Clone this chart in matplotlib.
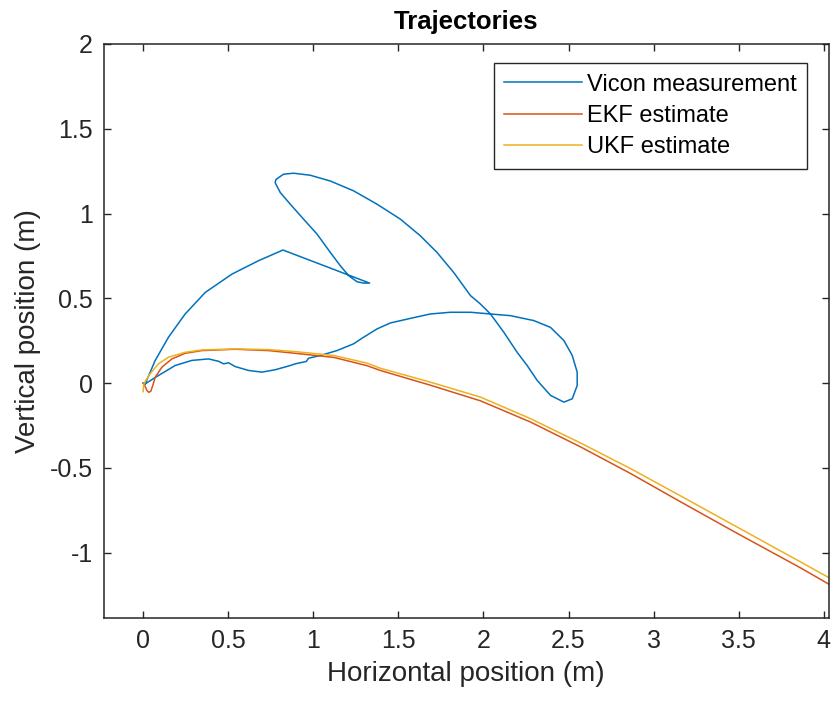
import numpy as np
import matplotlib.pyplot as plt

plt.rcParams['font.family'] = ['Liberation Sans', 'DejaVu Sans']

# Vicon measurement
vicon_x = [0.0, 0.012, 0.09, 0.188, 0.286, 0.384, 0.443, 0.473, 0.502, 0.541, 0.619,
           0.698, 0.776, 0.865, 0.894, 0.959, 0.972, 1.041, 1.139, 1.237, 1.296, 1.375,
           1.453, 1.571, 1.688, 1.806, 1.924, 2.041, 2.159, 2.296, 2.394, 2.473, 2.522,
           2.551, 2.551, 2.522, 2.473, 2.394, 2.316, 2.257, 2.198, 2.12, 2.041, 1.982,
           1.924, 1.825, 1.727, 1.629, 1.512, 1.375, 1.237, 1.1, 0.982, 0.884, 0.825,
           0.796, 0.78, 0.776, 0.806, 0.865, 0.943, 1.022, 1.1, 1.159, 1.208, 1.257,
           1.296, 1.331, 0.822, 0.678, 0.522, 0.365, 0.247, 0.149, 0.071, 0.012]
vicon_y = [0.0, -0.004, 0.045, 0.104, 0.134, 0.143, 0.129, 0.114, 0.12, 0.098, 0.075,
           0.065, 0.079, 0.104, 0.114, 0.128, 0.147, 0.163, 0.192, 0.232, 0.271, 0.32,
           0.355, 0.382, 0.408, 0.418, 0.418, 0.408, 0.398, 0.369, 0.329, 0.251, 0.163,
           0.065, -0.014, -0.092, -0.112, -0.072, 0.016, 0.104, 0.182, 0.3, 0.408, 0.467,
           0.516, 0.653, 0.771, 0.869, 0.967, 1.055, 1.134, 1.192, 1.226, 1.238, 1.232,
           1.212, 1.2, 1.182, 1.124, 1.055, 0.967, 0.879, 0.771, 0.692, 0.634, 0.598,
           0.59, 0.59, 0.785, 0.722, 0.643, 0.535, 0.408, 0.271, 0.134, -0.004]

# EKF estimate
ekf_x = [0.0, 0.012, 0.022, 0.033, 0.045, 0.058, 0.071, 0.11, 0.169, 0.247, 0.345,
         0.541, 0.737, 0.894, 1.12, 1.316, 1.394, 1.512, 1.688, 1.982, 2.276, 2.571,
         2.865, 3.159, 3.472, 3.865, 4.031]
ekf_y = [0.0, -0.019, -0.043, -0.054, -0.048, -0.01, 0.035, 0.094, 0.143, 0.176, 0.192,
         0.2, 0.192, 0.176, 0.152, 0.103, 0.075, 0.04, -0.012, -0.104, -0.229, -0.376,
         -0.533, -0.7, -0.875, -1.09, -1.186]

# UKF estimate
ukf_x = [0.0, 0.003, 0.015, 0.041, 0.09, 0.149, 0.247, 0.345, 0.541, 0.737, 0.894,
         1.12, 1.316, 1.394, 1.512, 1.688, 1.982, 2.276, 2.571, 2.865, 3.159, 3.472,
         3.865, 4.031]
ukf_y = [-0.05, -0.01, 0.015, 0.055, 0.114, 0.153, 0.182, 0.196, 0.202, 0.198, 0.186,
         0.163, 0.118, 0.088, 0.055, 0.006, -0.082, -0.209, -0.353, -0.504, -0.665, -0.838,
         -1.055, -1.147]

fig = plt.figure(figsize=(8.32, 7.06), dpi=100)
ax = fig.add_axes([0.125, 0.1246, 0.8708, 0.8131])

ax.plot(vicon_x, vicon_y, color='#0072BD', lw=1.1, label='Vicon measurement')
ax.plot(ekf_x, ekf_y, color='#D95319', lw=1.1, label='EKF estimate')
ax.plot(ukf_x, ukf_y, color='#EDB120', lw=1.1, label='UKF estimate')

ax.set_xlim(-0.23, 4.028)
ax.set_ylim(-1.385, 2)
ax.set_xticks(np.arange(0, 4.01, 0.5))
ax.set_yticks(np.arange(-1, 2.01, 0.5))
ax.set_xticklabels(['0', '0.5', '1', '1.5', '2', '2.5', '3', '3.5', '4'])
ax.set_yticklabels(['-1', '-0.5', '0', '0.5', '1', '1.5', '2'])
ax.tick_params(direction='in', length=5, width=1, top=True, right=True,
               labelsize=18, colors='#262626', pad=8)
for s in ax.spines.values():
    s.set_color('#262626')
    s.set_linewidth(1.1)

ax.set_xlabel('Horizontal position (m)', fontsize=20, color='#262626', labelpad=6)
ax.set_ylabel('Vertical position (m)', fontsize=20, color='#262626', labelpad=6)
ax.set_title('Trajectories', fontsize=18.5, fontweight='bold', pad=11)

leg = ax.legend(loc='upper right', bbox_to_anchor=(0.971, 0.967), borderaxespad=0,
                fontsize=17, fancybox=False, framealpha=1, edgecolor='#262626',
                handlelength=3.3, handletextpad=0.2, borderpad=0.45, labelspacing=0.4)
leg.get_frame().set_linewidth(1)

plt.savefig('out.png', dpi=100)
